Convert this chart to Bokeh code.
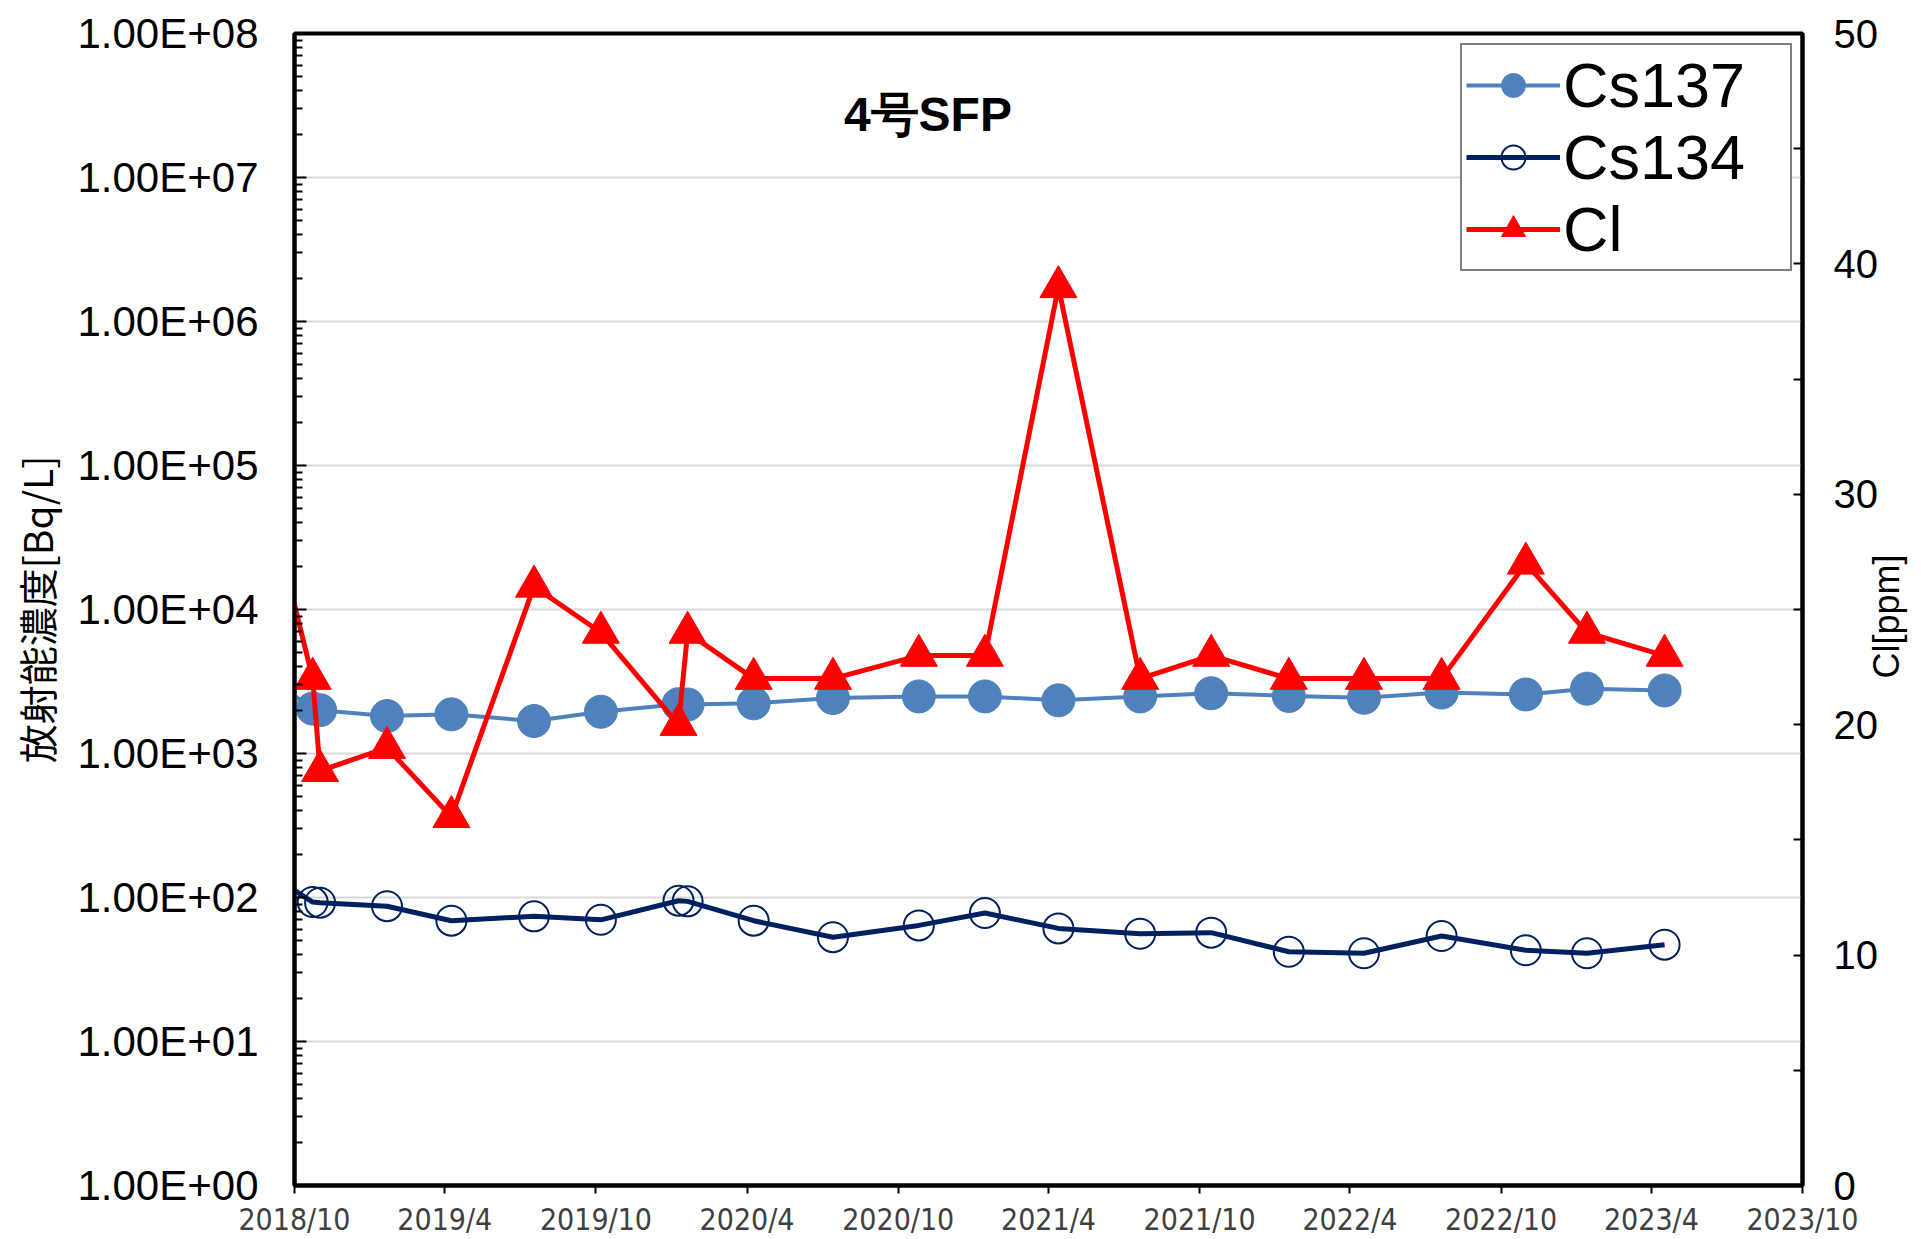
import math
from datetime import datetime
import pandas as pd
from bokeh.plotting import figure
from bokeh.models import (Range1d, LinearAxis, LinearScale, FixedTicker, Legend,
                          LegendItem, Label, ColumnDataSource)
from bokeh.embed import file_html
from bokeh.resources import INLINE

# ---------------- data ----------------
sample_dates = ["2018-09-05", "2018-10-23", "2018-11-01", "2019-01-21", "2019-04-09",
                "2019-07-18", "2019-10-07", "2020-01-09", "2020-01-20", "2020-04-09",
                "2020-07-14", "2020-10-26", "2021-01-14", "2021-04-13", "2021-07-21",
                "2021-10-15", "2022-01-17", "2022-04-18", "2022-07-21", "2022-10-31",
                "2023-01-13", "2023-04-17"]
cs137 = [3200, 2050, 2000, 1820, 1870, 1680, 1950, 2200, 2190, 2230, 2430,
         2490, 2490, 2340, 2490, 2620, 2510, 2440, 2650, 2570, 2820, 2740]
cs134 = [140, 93, 92, 87, 69, 74, 70, 95, 94, 69, 53,
         64, 78, 61, 56, 57, 42, 41, 54, 43, 41, 47]
cl = [29, 22, 18, 19, 16, 26, 24, 20, 24, 22, 22,
      23, 23, 39, 22, 23, 22, 22, 22, 27, 24, 23]

x_tick_dates = ["2018-10-01", "2019-04-01", "2019-10-01", "2020-04-01", "2020-10-01",
                "2021-04-01", "2021-10-01", "2022-04-01", "2022-10-01", "2023-04-01",
                "2023-10-01"]
x_tick_labels = ["2018/10", "2019/4", "2019/10", "2020/4", "2020/10", "2021/4",
                 "2021/10", "2022/4", "2022/10", "2023/4", "2023/10"]
y_ticks = [1, 10, 100, 1e3, 1e4, 1e5, 1e6, 1e7, 1e8]
y_tick_labels = ["1.00E+00", "1.00E+01", "1.00E+02", "1.00E+03", "1.00E+04",
                 "1.00E+05", "1.00E+06", "1.00E+07", "1.00E+08"]
cl_ticks = [0, 10, 20, 30, 40, 50]
cl_minor_ticks = [5, 15, 25, 35, 45]

title_text = "4号SFP"
y_title = "放射能濃度[Bq/L]"
y2_title = "Cl[ppm]"
series_names = ["Cs137", "Cs134", "Cl"]

# ---------------- derived ----------------
def to_ms(d):
    return float(pd.Timestamp(d).value // 10**6)

dts = [pd.Timestamp(d).to_pydatetime() for d in sample_dates]
xt_ms = [to_ms(d) for d in x_tick_dates]
y_minor = [m * 10**e for e in range(0, 8) for m in range(2, 10)]

src = ColumnDataSource(dict(date=dts, cs137=cs137, cs134=cs134, cl=cl))

p = figure(width=1921, height=1239, x_axis_type="datetime", y_axis_type="log",
           x_range=Range1d(to_ms(x_tick_dates[0]), to_ms(x_tick_dates[-1])),
           y_range=Range1d(1, 1e8),
           output_backend="svg", toolbar_location=None,
           min_border_left=294, min_border_right=118,
           min_border_top=33, min_border_bottom=52)
p.extra_y_ranges = {"cl": Range1d(0, 50)}
p.extra_y_scales = {"cl": LinearScale()}
p.background_fill_color = "white"
p.border_fill_color = "white"
p.outline_line_color = "black"
p.outline_line_width = 4

# grid
yt = FixedTicker(ticks=y_ticks, minor_ticks=y_minor)
p.xgrid.visible = False
p.ygrid[0].ticker = yt
p.ygrid.grid_line_color = "#D9D9D9"
p.ygrid.grid_line_width = 2

# left axis
ya = p.yaxis[0]
ya.ticker = yt
ya.major_label_overrides = {float(v): s for v, s in zip(y_ticks, y_tick_labels)}
ya.major_label_text_font = "Liberation Sans"
ya.major_label_text_font_size = "42px"
ya.major_label_text_color = "black"
ya.major_label_standoff = 36
ya.axis_line_width = 4
ya.axis_line_color = "black"
ya.major_tick_in = 12
ya.major_tick_out = 0
ya.minor_tick_in = 8
ya.minor_tick_out = 0
ya.major_tick_line_width = 2
ya.minor_tick_line_width = 2
ya.axis_label = y_title
ya.axis_label_text_font = "Noto Sans CJK JP"
ya.axis_label_text_font_style = "normal"
ya.axis_label_text_font_size = "39px"
ya.axis_label_text_color = "black"
ya.axis_label_standoff = 10

# bottom axis
xa = p.xaxis[0]
xa.ticker = FixedTicker(ticks=xt_ms, minor_ticks=[])
xa.major_label_overrides = {v: s for v, s in zip(xt_ms, x_tick_labels)}
xa.major_label_text_font = "DejaVu Sans Condensed"
xa.major_label_text_font_size = "30px"
xa.major_label_text_color = "#404040"
xa.major_label_standoff = 8
xa.axis_line_width = 4
xa.axis_line_color = "black"
xa.major_tick_in = 0
xa.major_tick_out = 8
xa.major_tick_line_width = 2
xa.minor_tick_in = 0
xa.minor_tick_out = 0

# right axis
ra = LinearAxis(y_range_name="cl",
                ticker=FixedTicker(ticks=cl_ticks, minor_ticks=cl_minor_ticks))
ra.major_label_text_font = "Liberation Sans"
ra.major_label_text_font_size = "40px"
ra.major_label_text_color = "black"
ra.major_label_standoff = 31
ra.axis_line_width = 4
ra.axis_line_color = "black"
ra.major_tick_in = 9
ra.major_tick_out = 0
ra.minor_tick_in = 9
ra.minor_tick_out = 0
ra.major_tick_line_width = 2
ra.minor_tick_line_width = 2
p.add_layout(ra, "right")

# right-side title (in a side panel so it is not clipped to the frame)
p.add_layout(Label(x=datetime(2024, 1, 11), y=24.7, y_range_name="cl", text=y2_title,
                   angle=math.pi / 2, text_font="Liberation Sans",
                   text_font_size="36px", text_color="black",
                   text_align="center", text_baseline="middle"), "right")

# series
l1 = p.line("date", "cs137", source=src, line_color="#4F81BD", line_width=4)
s1 = p.scatter("date", "cs137", source=src, marker="circle", size=33,
               fill_color="#4F81BD", line_color="#4F81BD")
l2 = p.line("date", "cs134", source=src, line_color="#002060", line_width=5)
s2 = p.scatter("date", "cs134", source=src, marker="circle", size=30,
               fill_alpha=0, line_color="#002060", line_width=2)
l3 = p.line("date", "cl", source=src, y_range_name="cl", line_color="#FF0000", line_width=5)
s3 = p.scatter("date", "cl", source=src, y_range_name="cl", marker="triangle", size=37,
               fill_color="#FF0000", line_color="#FF0000")

legend = Legend(items=[LegendItem(label=series_names[0], renderers=[l1, s1]),
                       LegendItem(label=series_names[1], renderers=[l2, s2]),
                       LegendItem(label=series_names[2], renderers=[l3, s3])],
                location="top_right", margin=10, padding=4, spacing=0,
                glyph_width=94, glyph_height=60, label_standoff=3, label_width=223,
                label_text_font="Liberation Sans", label_text_font_size="63px",
                label_text_color="black",
                border_line_color="black", border_line_width=2,
                background_fill_color="white", background_fill_alpha=1)
p.add_layout(legend)

p.add_layout(Label(x=datetime(2020, 11, 6), y=2.75e7, text=title_text,
                   text_font="Liberation Sans", text_font_style="bold",
                   text_font_size="48px", text_color="black",
                   text_align="center", text_baseline="middle"))

open("out.html", "w").write(file_html(p, INLINE))
